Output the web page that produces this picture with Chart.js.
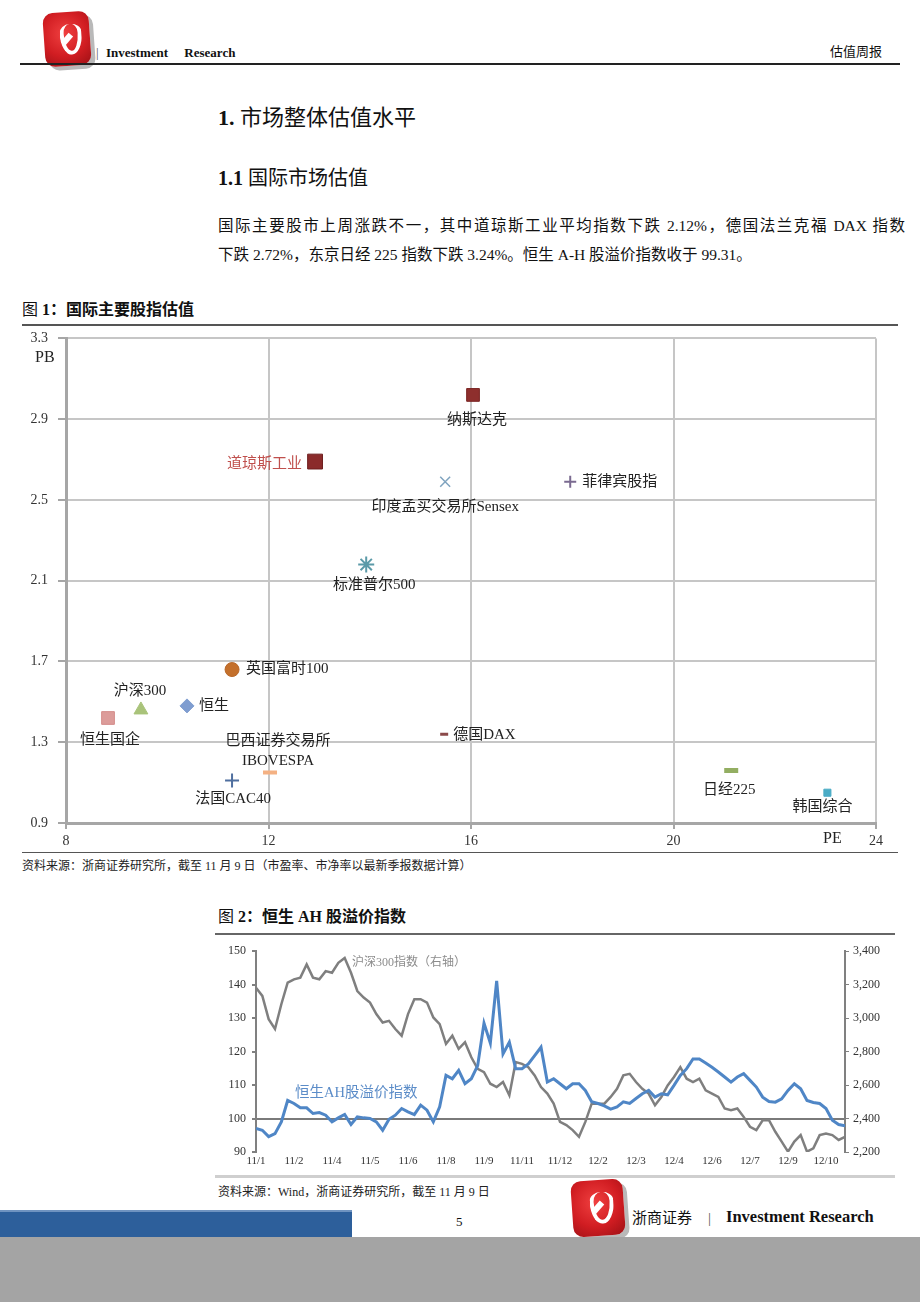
<!DOCTYPE html>
<html>
<head>
<meta charset="utf-8">
<script src="https://cdn.jsdelivr.net/npm/chart.js@4.4.1/dist/chart.umd.min.js"></script>
<style>
  body { margin: 0; background: #fff; }
  #page { position: relative; width: 920px; height: 1302px; overflow: hidden;
          font-family: "Liberation Serif", "Noto Sans CJK SC", serif; color: #111; }
  .t { position: absolute; white-space: nowrap; }
  .rule { position: absolute; }
  .logo { position: absolute; border-radius: 10px;
          background: radial-gradient(circle at 45% 40%, #f04040 0%, #d11d22 55%, #9c1015 100%);
          box-shadow: 4px 4px 0 #b9b9b9; transform: rotate(-4deg); }
  .logo::before { content: ""; position: absolute; left: 34%; top: 22%; width: 32%; height: 50%;
          border: 4px solid #fff; border-radius: 50% 50% 50% 50% / 30% 30% 70% 70%; border-top: none; }
  .logo::after { content: ""; position: absolute; left: 44%; top: 38%; width: 12%; height: 22%;
          background: #fff; transform: rotate(45deg); }
  canvas { position: absolute; }
</style>
</head>
<body>
<div id="page">
  <!-- header -->
  <div class="logo" style="left:44px;top:12px;width:46px;height:54px;"></div>
  <div class="t" style="left:96px;top:45px;font-size:13px;line-height:16px;color:#555;">|</div>
  <div class="t" style="left:106px;top:45px;font-size:13px;line-height:16px;font-weight:bold;">Investment&nbsp;&nbsp;&nbsp;&nbsp;&nbsp;Research</div>
  <div class="t" style="left:830px;top:44px;font-size:13px;line-height:16px;">估值周报</div>
  <div class="rule" style="left:20px;top:63px;width:880px;height:2px;background:#222;"></div>

  <!-- headings and text -->
  <div class="t" style="left:218px;top:105px;font-size:22px;line-height:26px;"><b>1.</b> 市场整体估值水平</div>
  <div class="t" style="left:218px;top:166px;font-size:20px;line-height:24px;"><b>1.1</b> 国际市场估值</div>
  <div class="t" style="left:218px;top:216px;width:687px;font-size:15.5px;line-height:20px;text-align:justify;text-align-last:justify;">国际主要股市上周涨跌不一，其中道琼斯工业平均指数下跌 2.12%，德国法兰克福 DAX 指数</div>
  <div class="t" style="left:218px;top:245px;font-size:15.5px;line-height:20px;">下跌 2.72%，东京日经 225 指数下跌 3.24%。恒生 A-H 股溢价指数收于 99.31。</div>

  <!-- figure 1 -->
  <div class="t" style="left:22px;top:300px;font-size:16px;line-height:20px;">图 <b>1：国际主要股指估值</b></div>
  <div class="rule" style="left:22px;top:324px;width:876px;height:2px;background:#555;"></div>
  <canvas id="scatterChart" width="920" height="535" style="left:0;top:320px;"></canvas>
  <div class="t" style="left:35px;top:348px;font-size:16px;line-height:18px;color:#222;">PB</div>
  <div class="t" style="left:823px;top:829px;font-size:16px;line-height:18px;color:#222;">PE</div>
  <div class="rule" style="left:22px;top:852px;width:876px;height:1px;background:#555;"></div>
  <div class="t" style="left:22px;top:859px;font-size:12px;line-height:15px;color:#222;">资料来源：浙商证券研究所，截至 11 月 9 日（市盈率、市净率以最新季报数据计算）</div>

  <!-- figure 2 -->
  <div class="t" style="left:218px;top:907px;font-size:16px;line-height:20px;">图 <b>2：恒生 AH 股溢价指数</b></div>
  <div class="rule" style="left:215px;top:933px;width:680px;height:2px;background:#666;"></div>
  <canvas id="ahChart" width="680" height="235" style="left:215px;top:938px;"></canvas>
  <div class="t" style="left:352px;top:955px;font-size:12px;line-height:14px;color:#8c8c8c;">沪深300指数（右轴）</div>
  <div class="t" style="left:295px;top:1083px;font-size:14.5px;line-height:18px;color:#5b8cc8;">恒生AH股溢价指数</div>
  <div class="rule" style="left:215px;top:1175px;width:680px;height:3px;background:#cfcfcf;"></div>
  <div class="t" style="left:218px;top:1185px;font-size:12px;line-height:15px;color:#222;">资料来源：Wind，浙商证券研究所，截至 11 月 9 日</div>

  <!-- footer -->
  <div class="rule" style="left:0;top:1210px;width:352px;height:27px;background:#2d5f9b;border-top:2px solid #6f93c0;box-sizing:border-box;"></div>
  <div class="t" style="left:456px;top:1214px;font-size:13px;line-height:16px;">5</div>
  <div class="logo" style="left:572px;top:1180px;width:52px;height:56px;"></div>
  <div class="t" style="left:632px;top:1208px;font-size:15px;line-height:20px;">浙商证券</div>
  <div class="t" style="left:708px;top:1208px;font-size:15px;line-height:20px;color:#555;">|</div>
  <div class="t" style="left:726px;top:1207px;font-size:16.5px;line-height:20px;font-weight:bold;">Investment Research</div>
  <div class="rule" style="left:0;top:1237px;width:920px;height:65px;background:#a4a4a4;"></div>
</div>

<script>
// ---- Figure 1: PE / PB of major indices ----
const indexNames = ['纳斯达克', '道琼斯工业', '印度孟买交易所Sensex', '菲律宾股指', '标准普尔500',
  '英国富时100', '沪深300', '恒生', '恒生国企', '德国DAX', '巴西证券交易所\nIBOVESPA',
  '法国CAC40', '日经225', '韩国综合'];
const peValues = [16.04, 12.92, 15.49, 17.96, 13.93, 11.28, 9.48, 10.39, 8.83, 15.47, 12.03, 11.28, 21.14, 23.04];
const pbValues = [3.02, 2.69, 2.59, 2.59, 2.18, 1.66, 1.46, 1.48, 1.42, 1.34, 1.15, 1.11, 1.16, 1.05];
const peTicks = [8, 12, 16, 20, 24];
const pbTicks = [0.9, 1.3, 1.7, 2.1, 2.5, 2.9, 3.3];

// ---- Figure 2: Hang Seng AH premium vs CSI 300 ----
const ahTickLabels = ['11/1', '11/2', '11/4', '11/5', '11/6', '11/8', '11/9', '11/11',
  '11/12', '12/2', '12/3', '12/4', '12/6', '12/7', '12/9', '12/10'];
const ahPremium = [97.0, 96.5, 94.6, 95.5, 99.0, 105.4, 104.5, 103.2, 103.2, 101.5,
  101.8, 101.0, 99.0, 100.2, 101.2, 98.2, 100.5, 100.2, 100.0, 99.0,
  96.5, 99.8, 101.0, 103.0, 102.0, 101.2, 104.0, 102.5, 99.0, 103.5,
  112.9, 111.9, 114.4, 110.4, 111.9, 115.8, 128.5, 122.5, 141.1, 119.3,
  122.8, 114.9, 114.9, 116.3, 118.8, 121.3, 110.9, 111.9, 110.4, 108.9,
  110.4, 110.4, 108.4, 105.0, 104.5, 103.8, 102.8, 103.5, 105.0, 104.5,
  106.0, 107.4, 108.4, 106.4, 107.4, 107.1, 109.9, 112.9, 114.9, 117.8,
  117.8, 116.6, 115.3, 113.9, 112.4, 110.9, 112.4, 113.4, 111.4, 109.4,
  106.4, 105.1, 104.9, 105.9, 108.4, 110.4, 108.9, 105.4, 104.8, 104.5,
  103.0, 99.5, 98.2, 97.8];
const csi300 = [3182, 3133, 2994, 2935, 3083, 3212, 3232, 3242, 3321, 3242,
  3232, 3281, 3271, 3331, 3360, 3271, 3162, 3123, 3093, 3024,
  2974, 2984, 2935, 2895, 3024, 3113, 3113, 3093, 3004, 2964,
  2846, 2895, 2816, 2856, 2766, 2697, 2677, 2608, 2588, 2618,
  2539, 2737, 2727, 2707, 2658, 2588, 2549, 2489, 2380, 2361,
  2331, 2291, 2380, 2489, 2489, 2489, 2529, 2578, 2658, 2667,
  2618, 2578, 2549, 2479, 2529, 2598, 2648, 2707, 2638, 2618,
  2638, 2568, 2549, 2529, 2460, 2450, 2460, 2410, 2351, 2331,
  2390, 2390, 2321, 2262, 2202, 2262, 2301, 2202, 2222, 2301,
  2311, 2301, 2272, 2291];
const pointsPerTick = 6;
const leftTicks = [90, 100, 110, 120, 130, 140, 150];
const rightTicks = [2200, 2400, 2600, 2800, 3000, 3200, 3400];

// marker look and label placement for each index (same order as indexNames)
const markerStyles = [
  { shape: 'rect', r: 9, fill: '#8e2f2d', line: '#7a2422', bw: 1, dx: 4, dy: 25, align: 'center' },
  { shape: 'rect', r: 10.5, fill: '#8b2b2b', line: '#6e1f1f', bw: 1, dx: -13, dy: 2, align: 'right', color: '#c0504d' },
  { shape: 'crossRot', r: 7, fill: '#7fa3bf', line: '#7fa3bf', bw: 1.5, dx: 0, dy: 25, align: 'center' },
  { shape: 'cross', r: 6, fill: '#7a6a90', line: '#7a6a90', bw: 2, dx: 12, dy: 0, align: 'left' },
  { shape: 'star', r: 8, fill: '#5b9aa8', line: '#5b9aa8', bw: 2, dx: 8, dy: 21, align: 'center' },
  { shape: 'circle', r: 7, fill: '#c4702c', line: '#b8682a', bw: 1, dx: 14, dy: 0, align: 'left' },
  { shape: 'triangle', r: 8, fill: '#a9c37a', line: '#a9c37a', bw: 1, dx: -1, dy: -19, align: 'center' },
  { shape: 'rectRot', r: 7, fill: '#7f9dd0', line: '#7f9dd0', bw: 1, dx: 12, dy: 0, align: 'left' },
  { shape: 'rect', r: 9, fill: '#dc9c9a', line: '#d48c8a', bw: 1, dx: 2, dy: 22, align: 'center' },
  { shape: 'line', r: 4, fill: '#8b4a4a', line: '#8b4a4a', bw: 3, dx: 9, dy: 1, align: 'left' },
  { shape: 'line', r: 7, fill: '#f4b183', line: '#f4b183', bw: 4, dx: 8, dy: -31, align: 'center' },
  { shape: 'cross', r: 7, fill: '#4f6f9f', line: '#4f6f9f', bw: 2, dx: 1, dy: 18, align: 'center' },
  { shape: 'line', r: 7, fill: '#93ae62', line: '#93ae62', bw: 5, dx: -2, dy: 20, align: 'center' },
  { shape: 'rect', r: 5, fill: '#4bacc6', line: '#4bacc6', bw: 1, dx: -5, dy: 14, align: 'center' },
];

const serif = '"Liberation Serif", "Noto Sans CJK SC", serif';

const pointLabels = {
  id: 'pointLabels',
  afterDatasetsDraw(chart) {
    const ctx = chart.ctx;
    const meta = chart.getDatasetMeta(0);
    ctx.save();
    ctx.font = '15px ' + serif;
    ctx.textBaseline = 'middle';
    meta.data.forEach((pt, i) => {
      const s = markerStyles[i];
      ctx.fillStyle = s.color || '#222';
      ctx.textAlign = s.align;
      indexNames[i].split('\n').forEach((line, k) => {
        ctx.fillText(line, pt.x + s.dx, pt.y + s.dy + k * 20);
      });
    });
    ctx.restore();
  },
};

new Chart(document.getElementById('scatterChart'), {
  type: 'scatter',
  data: {
    datasets: [{
      data: peValues.map((pe, i) => ({ x: pe, y: pbValues[i] })),
      pointStyle: markerStyles.map(s => s.shape),
      pointRadius: markerStyles.map(s => s.r),
      pointBackgroundColor: markerStyles.map(s => s.fill),
      pointBorderColor: markerStyles.map(s => s.line),
      pointBorderWidth: markerStyles.map(s => s.bw),
    }],
  },
  options: {
    responsive: false,
    animation: false,
    layout: { padding: { left: 26, right: 44, top: 7, bottom: 7 } },
    plugins: { legend: { display: false }, tooltip: { enabled: false } },
    scales: {
      x: {
        type: 'linear', min: peTicks[0], max: peTicks[peTicks.length - 1],
        afterBuildTicks: (scale) => { scale.ticks = peTicks.map(v => ({ value: v })); },
        afterFit: (scale) => { scale.height = 25; },
        grid: { color: '#c6c6c6', lineWidth: 2, tickColor: '#a6a6a6', tickLength: 6 },
        border: { color: '#a6a6a6', width: 3 },
        ticks: { color: '#333', font: { family: serif, size: 14 }, padding: 4, maxRotation: 0 },
      },
      y: {
        type: 'linear', min: pbTicks[0], max: pbTicks[pbTicks.length - 1],
        afterBuildTicks: (scale) => { scale.ticks = pbTicks.map(v => ({ value: v })); },
        afterFit: (scale) => { scale.width = 40; },
        grid: { color: '#c6c6c6', lineWidth: 2, tickColor: '#a6a6a6', tickLength: 8 },
        border: { color: '#a6a6a6', width: 3 },
        ticks: { color: '#333', font: { family: serif, size: 14 }, padding: 10,
                 callback: (v) => v.toFixed(1) },
      },
    },
  },
  plugins: [pointLabels],
});

new Chart(document.getElementById('ahChart'), {
  type: 'line',
  data: {
    datasets: [
      {
        label: '恒生AH股溢价指数',
        data: ahPremium.map((v, i) => ({ x: i, y: v })),
        yAxisID: 'y',
        borderColor: '#4f86c6',
        borderWidth: 3,
        pointRadius: 0,
        tension: 0,
        order: 0,
      },
      {
        label: '沪深300指数（右轴）',
        data: csi300.map((v, i) => ({ x: i, y: v })),
        yAxisID: 'y2',
        borderColor: '#7f7f7f',
        borderWidth: 2.5,
        pointRadius: 0,
        tension: 0,
        order: 1,
      },
    ],
  },
  options: {
    responsive: false,
    animation: false,
    layout: { padding: { left: 11, right: 10, top: 6, bottom: 5 } },
    plugins: { legend: { display: false }, tooltip: { enabled: false } },
    scales: {
      x: {
        type: 'linear', min: 0, max: ahPremium.length - 1,
        afterBuildTicks: (scale) => {
          scale.ticks = ahTickLabels.map((_, k) => ({ value: k * pointsPerTick }));
        },
        afterFit: (scale) => { scale.height = 16; },
        grid: { display: false, drawTicks: false },
        border: { display: false },
        ticks: { color: '#333', font: { family: serif, size: 11 }, padding: 3, maxRotation: 0,
                 autoSkip: false,
                 callback: (v) => ahTickLabels[Math.round(v / pointsPerTick)] || '' },
      },
      y: {
        position: 'left', min: leftTicks[0], max: leftTicks[leftTicks.length - 1],
        afterBuildTicks: (scale) => { scale.ticks = leftTicks.map(v => ({ value: v })); },
        afterFit: (scale) => { scale.width = 30; },
        grid: {
          color: (c) => (c.tick && c.tick.value === 100 ? '#7a7a7a' : 'rgba(0,0,0,0)'),
          lineWidth: 2, tickColor: '#808080', tickLength: 4,
        },
        border: { color: '#808080', width: 2 },
        ticks: { color: '#333', font: { family: serif, size: 12 }, padding: 6 },
      },
      y2: {
        position: 'right', min: rightTicks[0], max: rightTicks[rightTicks.length - 1],
        afterBuildTicks: (scale) => { scale.ticks = rightTicks.map(v => ({ value: v })); },
        afterFit: (scale) => { scale.width = 40; },
        grid: { drawOnChartArea: false, tickColor: '#808080', tickLength: 4 },
        border: { color: '#808080', width: 2 },
        ticks: { color: '#333', font: { family: serif, size: 12 }, padding: 4,
                 callback: (v) => v.toLocaleString('en-US') },
      },
    },
  },
});
</script>
</body>
</html>
